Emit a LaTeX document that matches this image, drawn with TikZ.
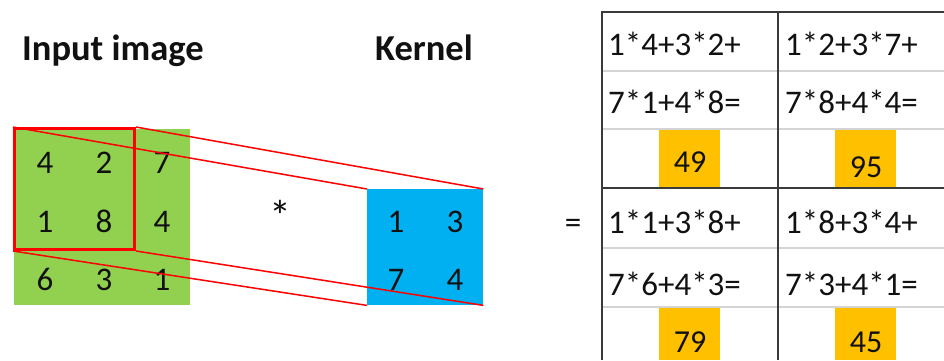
\documentclass[tikz,border=0pt]{standalone}
\usepackage{fontspec}
\setmainfont{Carlito}
\definecolor{gimg}{HTML}{92D050}
\definecolor{bker}{HTML}{00B0F0}
\definecolor{ores}{HTML}{FFC000}
\definecolor{tline}{HTML}{3A3A3A}
\definecolor{rline}{HTML}{D4D4D4}
\definecolor{txt}{HTML}{111111}
\tikzset{
  head/.style={anchor=base west, font=\fontsize{36.5}{36.5}\selectfont\bfseries, text=txt, inner sep=0pt},
  num/.style={anchor=base, font=\fontsize{33}{33}\selectfont, text=txt, inner sep=0pt},
  cell/.style={anchor=base west, font=\fontsize{33}{33}\selectfont, text=txt, inner sep=0pt},
  res/.style={anchor=base, font=\fontsize{32}{32}\selectfont, text=txt, inner sep=0pt},
  sq/.style={rectangle, draw=none, inner sep=0pt, anchor=north west},
  link/.style={draw=red, line width=1.5pt},
  grid/.style={draw=tline, line width=2pt},
  rowl/.style={draw=rline, line width=2pt}
}
\begin{document}
\begin{tikzpicture}[x=1pt,y=-1pt]
\useasboundingbox (0,0) rectangle (944,360);
% input image and kernel
\node[sq, fill=gimg, minimum width=176pt, minimum height=176pt] (img) at (14,129) {};
\node[sq, fill=bker, minimum width=116pt, minimum height=116pt] (ker) at (367,189) {};
\node[head] (hin) at (22,60) {Input image};
\node[head] (hker) at (375,60) {Kernel};
% numbers
\node[num] (a11) at (45,173) {4};
\node[num] (a12) at (104,173) {2};
\node[num] (a13) at (162,173) {7};
\node[num] (a21) at (45,232) {1};
\node[num] (a22) at (104,232) {8};
\node[num] (a23) at (162,232) {4};
\node[num] (a31) at (45,290) {6};
\node[num] (a32) at (104,290) {3};
\node[num] (a33) at (162,290) {1};
\node[num] (k11) at (396,232) {1};
\node[num] (k12) at (455,232) {3};
\node[num] (k21) at (396,290) {7};
\node[num] (k22) at (455,290) {4};
% window
\node[sq, draw=red, line width=3pt, minimum width=120pt, minimum height=121pt] (win) at (13,127) {};
\draw[link] (win.north west) -- (ker.north west);
\draw[link] (win.north east) -- (ker.north east);
\draw[link] (win.south west) -- (ker.south west);
\draw[link] (win.south east) -- (ker.south east);
\node[anchor=center, font=\fontsize{44}{44}\selectfont, text=txt, inner sep=0pt] (star) at (280,216) {*};
\node[num] (eq) at (573,233) {=};
% result orange boxes
\fill[ores] (659,129) rectangle (720,187);
\fill[ores] (835,129) rectangle (896,187);
\fill[ores] (659,307) rectangle (720,360);
\fill[ores] (835,307) rectangle (896,360);
% table lines
\draw[rowl] (603,71) -- (944,71);
\draw[rowl] (603,129) -- (944,129);
\draw[rowl] (603,248) -- (944,248);
\draw[rowl] (603,307) -- (944,307);
\draw[grid] (602,12) -- (944,12);
\draw[grid] (602,188) -- (944,188);
\draw[grid] (602,11) -- (602,360);
\draw[grid] (778,11) -- (778,360);
% cell texts
\node[cell] (c1) at (608,55) {1*4+3*2+};
\node[cell] (c2) at (608,113) {7*1+4*8=};
\node[res] (r1) at (690,172) {49};
\node[cell] (c3) at (785,55) {1*2+3*7+};
\node[cell] (c4) at (785,113) {7*8+4*4=};
\node[res] (r2) at (866,177) {95};
\node[cell] (c5) at (608,233) {1*1+3*8+};
\node[cell] (c6) at (608,295) {7*6+4*3=};
\node[res] (r3) at (690,352) {79};
\node[cell] (c7) at (785,233) {1*8+3*4+};
\node[cell] (c8) at (785,295) {7*3+4*1=};
\node[res] (r4) at (866,352) {45};
\end{tikzpicture}
\end{document}
